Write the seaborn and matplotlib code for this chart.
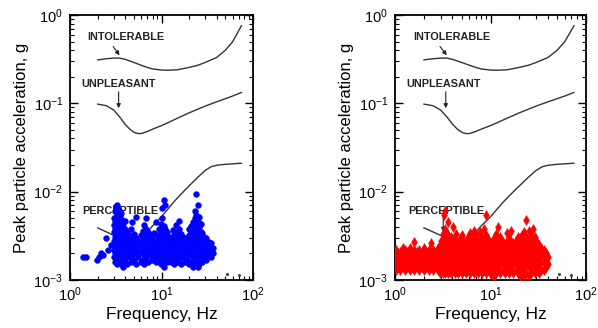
import matplotlib
matplotlib.use("Agg")
import matplotlib.pyplot as plt
import seaborn as sns
import pandas as pd
from matplotlib.ticker import LogLocator, LogFormatterSciNotation, NullFormatter

# ---------------- threshold curves ----------------
intol_f = [2, 2.5, 3, 3.5, 4, 5, 6, 7, 8, 10, 12, 15, 20, 25, 30, 40, 50, 60, 75]
intol_a = [0.31, 0.32, 0.325, 0.325, 0.315, 0.29, 0.27, 0.255, 0.245, 0.238,
           0.237, 0.24, 0.255, 0.27, 0.29, 0.33, 0.40, 0.50, 0.76]

unpl_f = [2, 2.5, 3, 3.5, 4, 4.5, 5, 5.5, 6, 7, 8, 10, 12, 15, 20, 30, 40, 50, 60, 75]
unpl_a = [0.098, 0.094, 0.084, 0.070, 0.058, 0.051, 0.047, 0.0455, 0.0455, 0.048,
          0.051, 0.056, 0.061, 0.068, 0.078, 0.093, 0.104, 0.113, 0.121, 0.133]

perc_f = [2, 2.5, 3, 3.5, 4, 4.5, 5, 5.4, 6, 7, 8, 10, 14, 18, 25, 30, 35, 40, 50, 75]
perc_a = [0.0039, 0.0035, 0.0032, 0.0030, 0.0028, 0.0027, 0.0026, 0.0026, 0.0029,
          0.0035, 0.0041, 0.0052, 0.0079, 0.0104, 0.0146, 0.0174, 0.0192, 0.0199,
          0.0204, 0.0210]

# ---------------- measured points (left panel, blue) ----------------
blue_cols = [
    (1.4, [0.0018]), (1.5, [0.0018]), (1.95, [0.0017]), (2.05, [0.0018]),
    (2.2, [0.0020]), (2.3, [0.0019]), (2.5, [0.0030]), (2.6, [0.0022]),
    (2.8, [0.0025]),
    (3.0, [0.0018, 0.0022, 0.0028, 0.0035, 0.0042, 0.0050]),
    (3.1, [0.0016, 0.0020, 0.0025, 0.0031, 0.0038, 0.0046, 0.0060]),
    (3.2, [0.0017, 0.0019, 0.0023, 0.0027, 0.0033, 0.0040, 0.0052, 0.0068]),
    (3.3, [0.0015, 0.0018, 0.0021, 0.0026, 0.0030, 0.0036, 0.0044, 0.0055, 0.0070]),
    (3.4, [0.0016, 0.0019, 0.0024, 0.0029, 0.0034, 0.0041, 0.0048, 0.0062]),
    (3.5, [0.0017, 0.0020, 0.0023, 0.0028, 0.0032, 0.0038, 0.0045, 0.0053]),
    (3.6, [0.0015, 0.0018, 0.0022, 0.0026, 0.0031, 0.0037, 0.0043, 0.0058]),
    (3.7, [0.0016, 0.0019, 0.0024, 0.0029, 0.0035, 0.0041, 0.0048]),
    (3.8, [0.0014, 0.0018, 0.0021, 0.0025, 0.0030, 0.0036, 0.0044]),
    (3.9, [0.0017, 0.0020, 0.0023, 0.0027, 0.0033, 0.0039]),
    (4.0, [0.0016, 0.0019, 0.0022, 0.0026, 0.0031, 0.0037, 0.0047]),
    (4.1, [0.0018, 0.0021, 0.0025, 0.0029, 0.0034]),
    (4.2, [0.0015, 0.0019, 0.0023, 0.0028, 0.0036]),
    (4.4, [0.0018, 0.0022, 0.0027, 0.0032]),
    (4.6, [0.0016, 0.0020, 0.0025, 0.0038]),
    (4.8, [0.0019, 0.0023, 0.0029, 0.0045]),
    (5.0, [0.0017, 0.0021, 0.0026, 0.0033]),
    (5.3, [0.0015, 0.0020, 0.0024, 0.0030, 0.0052]),
    (5.6, [0.0018, 0.0022, 0.0028]),
    (5.9, [0.0016, 0.0021, 0.0025, 0.0032]),
    (6.2, [0.0017, 0.0020, 0.0024, 0.0029, 0.0036]),
    (6.5, [0.0015, 0.0019, 0.0023, 0.0027, 0.0033, 0.0042]),
    (6.8, [0.0018, 0.0022, 0.0026, 0.0031, 0.0038, 0.0050]),
    (7.1, [0.0016, 0.0020, 0.0024, 0.0029, 0.0035]),
    (7.4, [0.0019, 0.0023, 0.0027, 0.0032]),
    (7.8, [0.0017, 0.0021, 0.0025, 0.0030]),
    (8.2, [0.0018, 0.0022, 0.0026, 0.0034]),
    (8.6, [0.0016, 0.0020, 0.0024, 0.0028, 0.0045]),
    (9.0, [0.0019, 0.0023, 0.0027, 0.0032]),
    (9.4, [0.0017, 0.0021, 0.0025, 0.0030, 0.0038]),
    (9.8, [0.0015, 0.0019, 0.0023, 0.0028, 0.0034, 0.0043]),
    (10.2, [0.0016, 0.0020, 0.0024, 0.0029, 0.0036, 0.0050, 0.0065]),
    (10.6, [0.0014, 0.0018, 0.0022, 0.0027, 0.0033, 0.0041, 0.0080]),
    (11.0, [0.0017, 0.0021, 0.0025, 0.0031, 0.0038, 0.0070]),
    (11.5, [0.0016, 0.0020, 0.0024, 0.0029, 0.0035]),
    (12.0, [0.0018, 0.0022, 0.0026, 0.0031]),
    (12.6, [0.0016, 0.0020, 0.0024, 0.0028]),
    (13.2, [0.0017, 0.0021, 0.0025, 0.0030, 0.0037]),
    (13.8, [0.0015, 0.0019, 0.0023, 0.0027, 0.0033]),
    (14.4, [0.0018, 0.0022, 0.0026, 0.0031, 0.0042]),
    (15.0, [0.0016, 0.0020, 0.0024, 0.0029, 0.0035]),
    (15.7, [0.0017, 0.0021, 0.0025, 0.0030, 0.0038, 0.0046]),
    (16.4, [0.0015, 0.0019, 0.0023, 0.0027, 0.0033]),
    (17.2, [0.0018, 0.0022, 0.0026, 0.0031]),
    (18.0, [0.0016, 0.0020, 0.0024, 0.0028]),
    (19.0, [0.0017, 0.0021, 0.0025, 0.0030]),
    (20.0, [0.0015, 0.0019, 0.0023, 0.0027, 0.0032, 0.0038]),
    (21.0, [0.0016, 0.0020, 0.0024, 0.0028, 0.0034, 0.0041]),
    (22.0, [0.0014, 0.0018, 0.0022, 0.0026, 0.0031, 0.0037, 0.0045]),
    (23.0, [0.0015, 0.0019, 0.0023, 0.0027, 0.0032, 0.0039, 0.0050, 0.0060]),
    (24.0, [0.0016, 0.0020, 0.0024, 0.0028, 0.0034, 0.0042, 0.0055, 0.0095]),
    (25.0, [0.0014, 0.0018, 0.0022, 0.0026, 0.0031, 0.0037, 0.0046, 0.0070]),
    (26.0, [0.0015, 0.0019, 0.0023, 0.0027, 0.0033, 0.0040, 0.0052]),
    (27.0, [0.0017, 0.0021, 0.0025, 0.0029, 0.0035, 0.0043]),
    (28.0, [0.0016, 0.0020, 0.0024, 0.0028, 0.0034]),
    (29.5, [0.0018, 0.0022, 0.0026, 0.0031]),
    (31.0, [0.0017, 0.0021, 0.0025, 0.0030]),
    (33.0, [0.0019, 0.0023, 0.0027]),
    (35.0, [0.0018, 0.0022, 0.0026]),
    (37.0, [0.0020, 0.0023]),
]

# ---------------- measured points (right panel, red) ----------------
red_cols = [
    (1.02, [0.0013, 0.0016, 0.0019, 0.0022]), (1.08, [0.0014, 0.0017, 0.0020]),
    (1.14, [0.0013, 0.0015, 0.0018, 0.0021]), (1.21, [0.0014, 0.0017, 0.0020, 0.0023]),
    (1.28, [0.0013, 0.0016, 0.0019, 0.0022]), (1.35, [0.0014, 0.0017, 0.0021]),
    (1.43, [0.0013, 0.0016, 0.0019, 0.0023]), (1.51, [0.0014, 0.0017, 0.0020]),
    (1.6, [0.0013, 0.0016, 0.0019, 0.0022, 0.0027]), (1.69, [0.0014, 0.0017, 0.0021]),
    (1.79, [0.0013, 0.0016, 0.0019, 0.0022]), (1.9, [0.0014, 0.0017, 0.0020]),
    (2.0, [0.0013, 0.0016, 0.0019, 0.0023]), (2.12, [0.0014, 0.0017, 0.0021]),
    (2.25, [0.0013, 0.0016, 0.0019, 0.0022]), (2.38, [0.0014, 0.0017, 0.0020, 0.0026]),
    (2.52, [0.0013, 0.0016, 0.0019, 0.0022]), (2.67, [0.0014, 0.0017, 0.0021]),
    (2.82, [0.0013, 0.0016, 0.0019, 0.0023]), (2.95, [0.0012, 0.0015, 0.0018, 0.0021, 0.0025]),
    (3.05, [0.0013, 0.0016, 0.0019, 0.0023, 0.0028]),
    (3.15, [0.0012, 0.0015, 0.0018, 0.0022, 0.0027, 0.0033]),
    (3.25, [0.0013, 0.0016, 0.0019, 0.0023, 0.0028, 0.0055]),
    (3.35, [0.0012, 0.0015, 0.0018, 0.0022, 0.0026, 0.0031, 0.0038, 0.0060]),
    (3.45, [0.0013, 0.0016, 0.0020, 0.0024, 0.0029, 0.0035]),
    (3.6, [0.0012, 0.0015, 0.0018, 0.0022, 0.0027, 0.0032, 0.0045]),
    (3.75, [0.0013, 0.0016, 0.0019, 0.0023, 0.0028]),
    (3.9, [0.0012, 0.0015, 0.0018, 0.0022, 0.0026, 0.0031]),
    (4.05, [0.0013, 0.0016, 0.0020, 0.0024, 0.0029, 0.0040]),
    (4.2, [0.0012, 0.0015, 0.0018, 0.0022, 0.0027]),
    (4.4, [0.0013, 0.0016, 0.0019, 0.0023, 0.0028, 0.0033]),
    (4.6, [0.0012, 0.0015, 0.0018, 0.0022, 0.0026]),
    (4.8, [0.0013, 0.0016, 0.0020, 0.0024, 0.0029]),
    (5.0, [0.0012, 0.0015, 0.0018, 0.0022, 0.0027, 0.0032]),
    (5.25, [0.0013, 0.0016, 0.0019, 0.0023, 0.0028]),
    (5.5, [0.0012, 0.0015, 0.0018, 0.0022, 0.0025]),
    (5.8, [0.0013, 0.0016, 0.0019, 0.0023, 0.0027, 0.0031]),
    (6.1, [0.0012, 0.0015, 0.0018, 0.0022, 0.0026, 0.0034]),
    (6.4, [0.0013, 0.0016, 0.0020, 0.0024, 0.0029]),
    (6.7, [0.0012, 0.0015, 0.0018, 0.0022, 0.0027, 0.0036]),
    (7.0, [0.0013, 0.0016, 0.0019, 0.0023, 0.0028, 0.0032]),
    (7.4, [0.0012, 0.0015, 0.0018, 0.0022, 0.0026]),
    (7.8, [0.0013, 0.0016, 0.0020, 0.0024, 0.0029, 0.0035]),
    (8.2, [0.0012, 0.0015, 0.0018, 0.0022, 0.0027, 0.0031]),
    (8.6, [0.0013, 0.0016, 0.0019, 0.0023, 0.0028, 0.0038]),
    (9.0, [0.0012, 0.0015, 0.0018, 0.0022, 0.0026, 0.0032, 0.0055]),
    (9.4, [0.0013, 0.0016, 0.0020, 0.0024, 0.0029]),
    (9.9, [0.0012, 0.0015, 0.0018, 0.0022, 0.0026]),
    (10.4, [0.0013, 0.0016, 0.0019, 0.0023, 0.0027]),
    (10.9, [0.0011, 0.0014, 0.0017, 0.0021, 0.0025, 0.0030]),
    (11.5, [0.0012, 0.0015, 0.0018, 0.0022, 0.0026, 0.0033]),
    (12.1, [0.0013, 0.0016, 0.0019, 0.0023, 0.0028, 0.0040]),
    (12.7, [0.0012, 0.0015, 0.0018, 0.0022, 0.0026, 0.0031]),
    (13.4, [0.0013, 0.0016, 0.0019, 0.0023, 0.0027]),
    (14.1, [0.0012, 0.0015, 0.0018, 0.0021, 0.0025]),
    (14.9, [0.0013, 0.0016, 0.0019, 0.0023, 0.0028, 0.0034]),
    (15.7, [0.0012, 0.0015, 0.0018, 0.0022, 0.0026, 0.0030]),
    (16.5, [0.0013, 0.0016, 0.0019, 0.0023, 0.0027, 0.0036]),
    (17.4, [0.0012, 0.0015, 0.0018, 0.0022, 0.0026]),
    (18.3, [0.0013, 0.0016, 0.0019, 0.0023, 0.0028]),
    (19.3, [0.0012, 0.0015, 0.0018, 0.0022, 0.0027, 0.0031]),
    (20.3, [0.0011, 0.0014, 0.0017, 0.0021, 0.0025, 0.0030]),
    (21.4, [0.0012, 0.0015, 0.0018, 0.0022, 0.0026, 0.0032]),
    (22.5, [0.0011, 0.0014, 0.0017, 0.0021, 0.0025, 0.0029, 0.0035]),
    (23.7, [0.0012, 0.0015, 0.0018, 0.0022, 0.0026, 0.0031, 0.0048]),
    (25.0, [0.0011, 0.0014, 0.0017, 0.0021, 0.0025, 0.0030, 0.0036]),
    (26.3, [0.0012, 0.0015, 0.0018, 0.0022, 0.0026, 0.0032]),
    (27.7, [0.0013, 0.0016, 0.0019, 0.0023, 0.0028, 0.0038]),
    (29.2, [0.0012, 0.0015, 0.0018, 0.0022, 0.0026, 0.0031]),
    (30.8, [0.0013, 0.0016, 0.0019, 0.0023, 0.0027]),
    (32.4, [0.0012, 0.0015, 0.0018, 0.0022, 0.0025]),
    (34.1, [0.0013, 0.0016, 0.0019, 0.0023]),
    (36.0, [0.0013, 0.0016, 0.0019, 0.0022]),
    (38.0, [0.0014, 0.0017, 0.0020]),
    (40.0, [0.0015, 0.0018]),
]

# stray specks near the bottom right of each panel
speck_f = [52, 70]
speck_a = [0.00118, 0.00115]

# annotation labels
labels = ["INTOLERABLE", "UNPLEASANT", "PERCEPTIBLE"]
label_x = [1.55, 1.33, 1.37]
label_y = [0.56, 0.165, 0.0061]
# arrows
arrow_tail_x = [2.96, 3.4, 3.2]
arrow_tail_y = [0.44, 0.135, 0.0054]
arrow_head_x = [3.48, 3.4, 3.2]
arrow_head_y = [0.35, 0.088, 0.0035]

x_label = "Frequency, Hz"
y_label = "Peak particle acceleration, g"


def expand(cols):
    fs, accs = [], []
    for f, vals in cols:
        for v in vals:
            fs.append(f)
            accs.append(v)
    return pd.DataFrame({"f": fs, "a": accs})


blue_df = expand(blue_cols)
red_df = expand(red_cols)
curves = pd.concat([
    pd.DataFrame({"f": intol_f, "a": intol_a, "curve": "intol"}),
    pd.DataFrame({"f": unpl_f, "a": unpl_a, "curve": "unpl"}),
    pd.DataFrame({"f": perc_f, "a": perc_a, "curve": "perc"}),
])

sns.set_theme(style="ticks")
plt.rcParams["font.family"] = ["Liberation Sans", "DejaVu Sans"]
plt.rcParams["mathtext.fontset"] = "custom"
plt.rcParams["mathtext.rm"] = "Liberation Sans"

fig = plt.figure(figsize=(5.98, 3.28), dpi=100)
ax_l = fig.add_axes([70 / 598, 1 - 280 / 328, 183 / 598, 265 / 328])
ax_r = fig.add_axes([395 / 598, 1 - 280 / 328, 191 / 598, 265 / 328])

panels = [
    (ax_l, blue_df, "#0000ff", "o", 18),
    (ax_r, red_df, "#ff0000", "d", 26),
]

for ax, df, color, marker, size in panels:
    ax.set_xscale("log")
    ax.set_yscale("log")
    sns.lineplot(data=curves, x="f", y="a", units="curve", estimator=None,
                 color="#333333", lw=1.0, sort=False, ax=ax, zorder=2)
    for t, lx, ly in zip(labels, label_x, label_y):
        ax.text(lx, ly, t, fontsize=7.8, fontweight="bold", ha="left",
                va="center", color="#222222", zorder=3)
    for tx, ty, hx, hy in zip(arrow_tail_x, arrow_tail_y, arrow_head_x, arrow_head_y):
        ax.annotate("", xy=(hx, hy), xytext=(tx, ty), zorder=3,
                    arrowprops=dict(arrowstyle="-|>", color="#222222", lw=0.8,
                                    mutation_scale=6, shrinkA=0, shrinkB=0))
    sns.scatterplot(data=df, x="f", y="a", color=color, marker=marker, s=size,
                    edgecolor=color, linewidth=0.3, ax=ax, zorder=4, legend=False)
    ax.scatter(speck_f, speck_a, s=1.5, color="#444444", zorder=4)

    ax.set_xlim(1, 100)
    ax.set_ylim(1e-3, 1)
    ax.xaxis.set_major_locator(LogLocator(base=10, numticks=10))
    ax.yaxis.set_major_locator(LogLocator(base=10, numticks=10))
    ax.xaxis.set_minor_locator(LogLocator(base=10, subs=range(2, 10), numticks=20))
    ax.yaxis.set_minor_locator(LogLocator(base=10, subs=range(2, 10), numticks=20))
    ax.xaxis.set_major_formatter(LogFormatterSciNotation())
    ax.yaxis.set_major_formatter(LogFormatterSciNotation())
    ax.xaxis.set_minor_formatter(NullFormatter())
    ax.yaxis.set_minor_formatter(NullFormatter())
    ax.tick_params(which="both", direction="in", top=True, right=True,
                   color="black", labelsize=10.5, labelcolor="black")
    ax.tick_params(which="major", length=6, width=1.0)
    ax.tick_params(axis="x", which="major", pad=4)
    ax.tick_params(axis="y", which="major", pad=5)
    ax.tick_params(which="minor", length=3, width=0.8)
    for sp in ax.spines.values():
        sp.set_linewidth(1.3)
        sp.set_color("black")
    ax.set_xlabel(x_label, fontsize=12.5, color="black", labelpad=2)
    ax.set_ylabel(y_label, fontsize=12, color="black", labelpad=3)

fig.savefig("out.png", dpi=100, facecolor="white")
